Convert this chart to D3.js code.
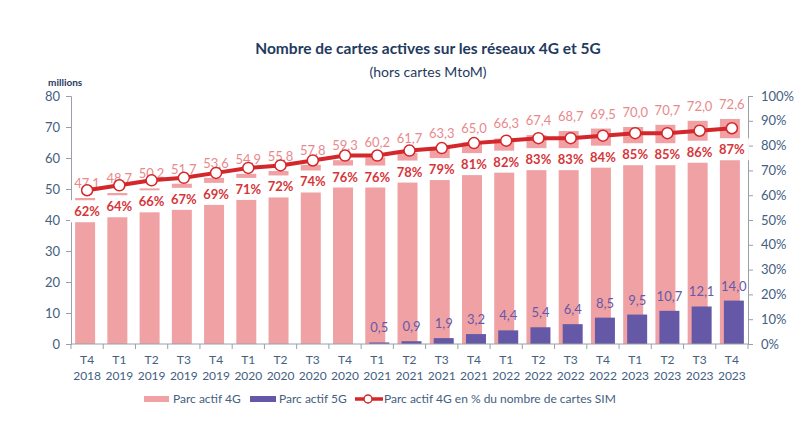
<!DOCTYPE html>
<html>
<head>
<meta charset="utf-8">
<script src="https://cdn.jsdelivr.net/npm/d3@7"></script>
<style>
  body { margin: 0; background: #fff; }
  svg { font-family: Lato, "Open Sans", sans-serif; }
</style>
</head>
<body>
<div id="chart"></div>
<script>
// quarters shown on the x axis
const quarters = ['T4', 'T1', 'T2', 'T3', 'T4', 'T1', 'T2', 'T3', 'T4', 'T1', 'T2', 'T3', 'T4',
                  'T1', 'T2', 'T3', 'T4', 'T1', 'T2', 'T3', 'T4'];
const years = ['2018', '2019', '2019', '2019', '2019', '2020', '2020', '2020', '2020', '2021', '2021',
               '2021', '2021', '2022', '2022', '2022', '2022', '2023', '2023', '2023', '2023'];

// parc actif 4G (millions)
const parc4G = [47.1, 48.7, 50.2, 51.7, 53.6, 54.9, 55.8, 57.8, 59.3, 60.2, 61.7, 63.3, 65.0,
                66.3, 67.4, 68.7, 69.5, 70.0, 70.7, 72.0, 72.6];
// parc actif 5G (millions), none before 2021
const parc5G = [null, null, null, null, null, null, null, null, null, 0.5, 0.9, 1.9, 3.2,
                4.4, 5.4, 6.4, 8.5, 9.5, 10.7, 12.1, 14.0];
// 4G en % du nombre de cartes SIM
const part4G = [62, 64, 66, 67, 69, 71, 72, 74, 76, 76, 78, 79, 81, 82, 83, 83, 84, 85, 85, 86, 87];

const leftTicks = [0, 10, 20, 30, 40, 50, 60, 70, 80];
const rightTicks = [0, 10, 20, 30, 40, 50, 60, 70, 80, 90, 100];

const W = 811, H = 426;
const margin = { top: 96, right: 63, bottom: 82, left: 71 };
const width = W - margin.left - margin.right;
const height = H - margin.top - margin.bottom;

const axisColor = '#44607f';
const pink = '#f0a1a4';
const purple = '#6559a7';
const red = '#d3272b';

const svg = d3.select('#chart').append('svg')
    .attr('width', W)
    .attr('height', H);

// titles
svg.append('text')
    .attr('x', 428).attr('y', 54)
    .attr('text-anchor', 'middle')
    .style('font-size', '15.5px').style('font-weight', 'bold')
    .attr('fill', '#1f3a60')
    .text('Nombre de cartes actives sur les réseaux 4G et 5G');
svg.append('text')
    .attr('x', 428).attr('y', 77)
    .attr('text-anchor', 'middle')
    .style('font-size', '14px')
    .attr('fill', '#1f3a60')
    .text('(hors cartes MtoM)');
svg.append('text')
    .attr('x', 48).attr('y', 86)
    .style('font-size', '10px').style('font-weight', 'bold')
    .attr('fill', '#1f3a60')
    .text('millions');

const g = svg.append('g')
    .attr('transform', `translate(${margin.left},${margin.top})`);

const idx = d3.range(quarters.length);

const x = d3.scaleBand()
    .domain(idx)
    .range([0, width]);

const y = d3.scaleLinear()
    .domain([0, 80])
    .range([height, 0]);

const yPct = d3.scaleLinear()
    .domain([0, 100])
    .range([height, 0]);

const barW = x.bandwidth() * 0.62;
const shift = 2;

// 4G bars
g.append('g').selectAll('rect')
    .data(idx)
    .join('rect')
    .attr('x', i => x(i) + x.bandwidth() / 2 - barW / 2 - shift)
    .attr('y', i => y(parc4G[i]))
    .attr('width', barW)
    .attr('height', i => height - y(parc4G[i]))
    .attr('fill', pink);

// 5G bars
const idx5G = idx.filter(i => parc5G[i] != null);
g.append('g').selectAll('rect')
    .data(idx5G)
    .join('rect')
    .attr('x', i => x(i) + x.bandwidth() / 2 - barW / 2 + shift)
    .attr('y', i => y(parc5G[i]))
    .attr('width', barW)
    .attr('height', i => height - y(parc5G[i]))
    .attr('fill', purple);

// axes
const xAxis = g.append('g')
    .attr('transform', `translate(0,${height})`);
xAxis.append('line')
    .attr('x1', 0).attr('x2', width)
    .attr('stroke', '#9aa0a8');
xAxis.selectAll('.tick')
    .data(d3.range(quarters.length + 1))
    .join('line')
    .attr('x1', i => i * x.step()).attr('x2', i => i * x.step())
    .attr('y1', 0).attr('y2', 5)
    .attr('stroke', '#9aa0a8');
const xl = xAxis.selectAll('.xl')
    .data(idx)
    .join('text')
    .attr('text-anchor', 'middle')
    .attr('fill', axisColor)
    .style('font-size', '12px');
xl.append('tspan')
    .attr('x', i => x(i) + x.bandwidth() / 2)
    .attr('y', 20)
    .text(i => quarters[i]);
xl.append('tspan')
    .attr('x', i => x(i) + x.bandwidth() / 2)
    .attr('y', 36)
    .text(i => years[i]);

const leftAxis = g.append('g')
    .call(d3.axisLeft(y).tickValues(leftTicks).tickSize(5).tickPadding(6));
const rightAxis = g.append('g')
    .attr('transform', `translate(${width},0)`)
    .call(d3.axisRight(yPct).tickValues(rightTicks).tickSize(5).tickPadding(8)
        .tickFormat(d => d + '%'));
[leftAxis, rightAxis].forEach(a => {
    a.select('.domain').attr('stroke', '#9aa0a8');
    a.selectAll('.tick line').attr('stroke', '#9aa0a8');
    a.selectAll('.tick text')
        .attr('fill', axisColor)
        .style('font-size', '13px')
        .style('font-family', 'Lato, sans-serif');
});

const fmt = v => v.toFixed(1).replace('.', ',');
const cx = i => x(i) + x.bandwidth() / 2;

// white boxes behind percentage labels
g.append('g').selectAll('rect')
    .data(idx)
    .join('rect')
    .attr('x', i => cx(i) - 17)
    .attr('y', i => yPct(part4G[i]) + 10)
    .attr('width', 34)
    .attr('height', 22)
    .attr('fill', '#fff');

g.append('g').selectAll('text')
    .data(idx)
    .join('text')
    .attr('x', cx)
    .attr('y', i => yPct(part4G[i]) + 26)
    .attr('text-anchor', 'middle')
    .attr('fill', '#d6363a')
    .style('font-size', '13px').style('font-weight', 'bold')
    .text(i => part4G[i] + '%');

// 4G values above bars
g.append('g').selectAll('text')
    .data(idx)
    .join('text')
    .attr('x', cx)
    .attr('y', i => y(parc4G[i]) - 10)
    .attr('text-anchor', 'middle')
    .attr('fill', '#e8898c')
    .style('font-size', '13px')
    .text(i => fmt(parc4G[i]));

// 5G values
g.append('g').selectAll('text')
    .data(idx5G)
    .join('text')
    .attr('x', i => cx(i) + shift)
    .attr('y', i => y(parc5G[i]) - 10)
    .attr('text-anchor', 'middle')
    .attr('fill', purple)
    .style('font-size', '13px')
    .text(i => fmt(parc5G[i]));

// percentage line
const line = d3.line()
    .x(cx)
    .y(i => yPct(part4G[i]));
g.append('path')
    .datum(idx)
    .attr('d', line)
    .attr('fill', 'none')
    .attr('stroke', red)
    .attr('stroke-width', 4);
g.append('g').selectAll('circle')
    .data(idx)
    .join('circle')
    .attr('cx', cx)
    .attr('cy', i => yPct(part4G[i]))
    .attr('r', 5.5)
    .attr('fill', '#fff')
    .attr('stroke', red)
    .attr('stroke-width', 1.5);

// legend
const legend = svg.append('g')
    .attr('transform', 'translate(0,399)')
    .style('font-size', '12px');
legend.append('rect').attr('x', 144).attr('y', -3).attr('width', 25).attr('height', 6).attr('fill', pink);
legend.append('text').attr('x', 173).attr('y', 4).attr('fill', axisColor).text('Parc actif 4G');
legend.append('rect').attr('x', 250).attr('y', -3).attr('width', 26).attr('height', 6).attr('fill', purple);
legend.append('text').attr('x', 279).attr('y', 4).attr('fill', axisColor).text('Parc actif 5G');
legend.append('line').attr('x1', 355).attr('x2', 383).attr('stroke', red).attr('stroke-width', 3.5);
legend.append('circle').attr('cx', 368).attr('r', 4).attr('fill', '#fff').attr('stroke', red).attr('stroke-width', 1.5);
legend.append('text').attr('x', 384).attr('y', 4).attr('fill', axisColor).text('Parc actif 4G en % du nombre de cartes SIM');
</script>
</body>
</html>
